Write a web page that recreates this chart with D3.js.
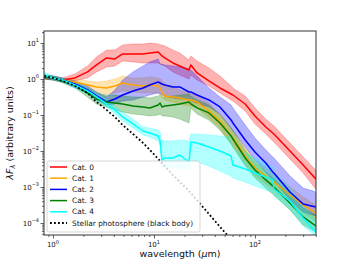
<!DOCTYPE html>
<html><head><meta charset="utf-8">
<script src="https://cdn.jsdelivr.net/npm/d3@7"></script>
<style>body{margin:0;background:#fff;} svg{display:block;font-family:"DejaVu Sans",sans-serif;}</style>
</head><body><svg id="c" width="352" height="264"></svg>
<script>
// ---- data ----
const categories = ["Cat. 0", "Cat. 1", "Cat. 2", "Cat. 3", "Cat. 4"];
const colors = ["#ff0000", "#ffa500", "#0000ff", "#008000", "#00ffff"];
const wavelength = [0.82, 1.0, 1.25, 1.65, 2.2, 2.7, 3.4, 4.1, 4.9, 6.2, 7.8, 9.1, 11.0, 11.5, 12.0, 12.8, 15.4, 18.0, 22.2, 23.2, 26.7, 35, 45, 58, 60.5, 80, 100, 128, 150, 154, 222, 300, 400];

const med0 = [1.14, 1.07, 0.94, 1.07, 1.57, 2.45, 3.83, 3.59, 4.95, 4.95, 4.95, 5.28, 5.62, 4.95, 4.35, 3.83, 2.78, 2.30, 1.78, 2.45, 1.47, 0.88, 0.562, 0.383, 0.359, 0.202, 0.0938, 0.0464, 0.0316, 0.0297, 0.0100, 0.00408, 0.00167];
const lo0  = [1.0, 0.938, 0.825, 0.88, 1.07, 1.57, 2.15, 2.30, 3.16, 2.97, 2.78, 2.78, 2.78, 2.61, 2.45, 2.30, 1.57, 1.29, 1.0, 1.29, 0.938, 0.639, 0.408, 0.261, 0.245, 0.129, 0.0562, 0.0297, 0.019, 0.0178, 0.006, 0.00245, 0.00088];
const hi0  = [1.29, 1.21, 1.07, 1.38, 2.30, 4.08, 6.39, 6.39, 8.80, 9.38, 9.38, 10, 9.38, 8.80, 8.80, 8.25, 6.39, 5.28, 3.37, 4.35, 3.16, 2.02, 1.21, 0.639, 0.562, 0.337, 0.157, 0.0774, 0.0528, 0.0495, 0.0167, 0.00681, 0.00297];

const med1 = [1.14, 1.07, 0.938, 0.825, 0.681, 0.600, 0.562, 0.639, 0.774, 0.681, 0.639, 0.681, 0.639, 0.562, 0.435, 0.337, 0.316, 0.297, 0.261, 0.261, 0.230, 0.129, 0.0681, 0.0261, 0.0230, 0.00726, 0.00337, 0.00202, 0.00147, 0.00138, 0.000600, 0.000316, 0.000190];
const lo1  = [1.0, 0.938, 0.825, 0.681, 0.528, 0.435, 0.383, 0.408, 0.464, 0.435, 0.408, 0.408, 0.408, 0.359, 0.316, 0.261, 0.230, 0.202, 0.178, 0.178, 0.157, 0.0825, 0.0435, 0.0157, 0.0138, 0.00435, 0.00202, 0.00121, 0.00088, 0.000825, 0.000359, 0.000190, 0.000114];
const hi1  = [1.29, 1.21, 1.07, 1.0, 0.88, 0.825, 0.88, 1.0, 1.21, 1.07, 1.07, 1.14, 1.07, 1.0, 0.938, 0.726, 0.562, 0.495, 0.408, 0.383, 0.337, 0.215, 0.107, 0.0435, 0.0383, 0.0121, 0.00562, 0.00337, 0.00245, 0.0023, 0.001, 0.000528, 0.000316];

const med2 = [1.14, 1.07, 0.938, 0.726, 0.495, 0.337, 0.230, 0.278, 0.359, 0.464, 0.562, 0.681, 0.825, 0.774, 0.726, 0.681, 0.600, 0.600, 0.435, 0.435, 0.359, 0.261, 0.167, 0.0726, 0.0600, 0.0202, 0.00938, 0.00464, 0.00261, 0.00245, 0.000726, 0.000337, 0.000278];
const lo2  = [1.0, 0.938, 0.825, 0.600, 0.383, 0.261, 0.190, 0.202, 0.245, 0.261, 0.316, 0.359, 0.408, 0.383, 0.359, 0.337, 0.297, 0.278, 0.261, 0.245, 0.215, 0.167, 0.107, 0.0435, 0.0359, 0.0129, 0.00562, 0.00261, 0.00157, 0.00147, 0.000435, 0.000202, 0.000157];
const hi2  = [1.29, 1.21, 1.07, 0.88, 0.639, 0.435, 0.316, 0.495, 0.938, 1.57, 2.30, 2.97, 3.59, 2.61, 2.61, 2.45, 2.30, 2.15, 1.90, 1.78, 1.21, 0.562, 0.316, 0.190, 0.157, 0.0528, 0.0230, 0.0107, 0.00681, 0.00639, 0.00202, 0.000938, 0.000726];

const med3 = [1.14, 1.07, 0.880, 0.681, 0.408, 0.278, 0.230, 0.215, 0.202, 0.178, 0.167, 0.157, 0.190, 0.215, 0.167, 0.178, 0.190, 0.202, 0.230, 0.202, 0.157, 0.114, 0.0600, 0.0261, 0.0215, 0.00639, 0.00297, 0.00157, 0.00107, 0.001, 0.000359, 0.000147, 0.0000825];
const lo3  = [1.0, 0.938, 0.774, 0.562, 0.316, 0.202, 0.167, 0.138, 0.121, 0.107, 0.1, 0.0938, 0.1, 0.107, 0.0938, 0.0938, 0.088, 0.0774, 0.06, 0.157, 0.107, 0.0726, 0.0383, 0.0157, 0.0129, 0.00383, 0.00178, 0.000938, 0.000639, 0.0006, 0.00023, 0.000088, 0.0000562];
const hi3  = [1.29, 1.21, 1.0, 0.825, 0.562, 0.408, 0.359, 0.359, 0.337, 0.316, 0.316, 0.297, 0.337, 0.359, 0.316, 0.316, 0.337, 0.359, 0.383, 0.337, 0.261, 0.19, 0.1, 0.0435, 0.0359, 0.0107, 0.00495, 0.00261, 0.00178, 0.00167, 0.000639, 0.000261, 0.000167];

const med4 = [1.29, 1.07, 0.938, 0.681, 0.464, 0.316, 0.202, 0.138, 0.088, 0.0562, 0.0359, 0.0316, 0.0261, 0.019, 0.00562, 0.00639, 0.00639, 0.00774, 0.00495, 0.0178, 0.0167, 0.0129, 0.01, 0.00726, 0.00408, 0.00316, 0.00245, 0.0019, 0.00157, 0.00088, 0.000408, 0.000138, 0.0000562];
const lo4  = [1.14, 0.938, 0.825, 0.562, 0.383, 0.261, 0.167, 0.107, 0.0681, 0.0435, 0.0278, 0.0245, 0.019, 0.0138, 0.00337, 0.00337, 0.00337, 0.00337, 0.00297, 0.00562, 0.00495, 0.00383, 0.00278, 0.00202, 0.00178, 0.00138, 0.00107, 0.000825, 0.000681, 0.000562, 0.000245, 0.0000825, 0.0000435];
const hi4  = [1.57, 1.21, 1.07, 0.825, 0.562, 0.408, 0.261, 0.178, 0.121, 0.0774, 0.0464, 0.0435, 0.0383, 0.0337, 0.0202, 0.019, 0.019, 0.0202, 0.019, 0.0297, 0.0297, 0.0278, 0.0261, 0.0245, 0.0107, 0.0088, 0.00639, 0.00464, 0.00359, 0.00261, 0.000938, 0.000316, 0.000121];

const starWavelength = [0.82, 1.0, 1.25, 1.65, 2.2, 2.7, 3.4, 4.1, 4.9, 6.2, 7.8, 9.1, 11.5, 15.4, 22.2, 35, 47, 59];
const starFlux = [1.21, 1.07, 0.880, 0.639, 0.408, 0.230, 0.138, 0.0880, 0.0528, 0.0297, 0.0167, 0.0107, 0.00528, 0.00215, 0.000774, 0.000178, 0.0000681, 0.0000337];
const starLabel = "Stellar photosphere (black body)";

const xTickValues = [1, 10, 100];
const xTickExponents = ["0", "1", "2"];
const yTickValues = [1e-4, 1e-3, 1e-2, 1e-1, 1, 10];
const yTickExponents = ["\u22124", "\u22123", "\u22122", "\u22121", "0", "1"];

const meds = [med0, med1, med2, med3, med4];
const los = [lo0, lo1, lo2, lo3, lo4];
const his = [hi0, hi1, hi2, hi3, hi4];

// ---- chart ----
const L = 44, R = 316, T = 31, B = 235;
const svg = d3.select("#c");
const x = d3.scaleLog().domain([0.815, 402]).range([L, R]);
const y = d3.scaleLog().domain([4.64e-5, 21.5]).range([B, T]);

svg.append("defs").append("clipPath").attr("id", "clip")
  .append("rect").attr("x", L).attr("y", T).attr("width", R - L).attr("height", B - T);

const plot = svg.append("g").attr("clip-path", "url(#clip)");

const area = d3.area().x(d => x(d.w)).y0(d => y(d.lo)).y1(d => y(d.hi));
const line = d3.line().x(d => x(d.w)).y(d => y(d.v));

categories.forEach((c, i) => {
  const pts = wavelength.map((w, j) => ({w, lo: los[i][j], hi: his[i][j], v: meds[i][j]}));
  plot.append("path").datum(pts).attr("d", area)
    .attr("fill", colors[i]).attr("fill-opacity", 0.3)
    .attr("stroke", colors[i]).attr("stroke-opacity", 0.3).attr("stroke-width", 0.8);
});
categories.forEach((c, i) => {
  const pts = wavelength.map((w, j) => ({w, v: meds[i][j]}));
  plot.append("path").datum(pts).attr("d", line)
    .attr("fill", "none").attr("stroke", colors[i]).attr("stroke-width", 1.5)
    .attr("stroke-linejoin", "round");
});
plot.append("path").datum(starWavelength.map((w, j) => ({w, v: starFlux[j]})))
  .attr("d", line).attr("fill", "none").attr("stroke", "#000")
  .attr("stroke-width", 1.8).attr("stroke-dasharray", "1.8,2.2");

// axes
const isPow = v => Math.abs(Math.log10(v) - Math.round(Math.log10(v))) < 1e-6;
const xMinor = x.ticks().filter(v => !isPow(v));
const yMinor = y.ticks().filter(v => !isPow(v));

const gxMinor = svg.append("g").attr("transform", `translate(0,${B})`)
  .call(d3.axisBottom(x).tickValues(xMinor).tickSize(2).tickFormat(""));
const gx = svg.append("g").attr("transform", `translate(0,${B})`)
  .call(d3.axisBottom(x).tickValues(xTickValues).tickSize(3.5).tickFormat(""));
const gyMinor = svg.append("g").attr("transform", `translate(${L},0)`)
  .call(d3.axisLeft(y).tickValues(yMinor).tickSize(2).tickFormat(""));
const gy = svg.append("g").attr("transform", `translate(${L},0)`)
  .call(d3.axisLeft(y).tickValues(yTickValues).tickSize(3.5).tickFormat(""));
[gxMinor, gx, gyMinor, gy].forEach(g => {
  g.select(".domain").remove();
  g.selectAll(".tick line").attr("stroke", "#222").attr("stroke-width", 0.7);
});

xTickValues.forEach((v, i) => {
  const t = svg.append("text").attr("x", x(v)).attr("y", B + 12)
    .attr("text-anchor", "middle").attr("font-size", 7).attr("fill", "#111");
  t.append("tspan").text("10");
  t.append("tspan").attr("dy", -3.5).attr("font-size", 5).text(xTickExponents[i]);
});
yTickValues.forEach((v, i) => {
  const t = svg.append("text").attr("x", L - 5).attr("y", y(v) + 2.8)
    .attr("text-anchor", "end").attr("font-size", 7).attr("fill", "#111");
  t.append("tspan").text("10");
  t.append("tspan").attr("dy", -3.5).attr("font-size", 5).text(yTickExponents[i]);
});

// frame
svg.append("rect").attr("x", L).attr("y", T).attr("width", R - L).attr("height", B - T)
  .attr("fill", "none").attr("stroke", "#333").attr("stroke-width", 1);

// axis labels
const xl = svg.append("text").attr("x", (L + R) / 2).attr("y", 257)
  .attr("text-anchor", "middle").attr("font-size", 9.5).attr("fill", "#111");
xl.append("tspan").text("wavelength (");
xl.append("tspan").attr("font-style", "italic").text("\u03bc");
xl.append("tspan").text("m)");

const yl = svg.append("text").attr("transform", `translate(13,${(T + B) / 2}) rotate(-90)`)
  .attr("text-anchor", "middle").attr("font-size", 9.5).attr("fill", "#111");
yl.append("tspan").attr("font-style", "italic").text("\u03bbF");
yl.append("tspan").attr("font-style", "italic").attr("font-size", 7).attr("dy", 2).text("\u03bb");
yl.append("tspan").attr("dy", -2).text(" (arbitrary units)");

// legend
const lg = svg.append("g");
lg.append("rect").attr("x", 47).attr("y", 161).attr("width", 153).attr("height", 71)
  .attr("rx", 2).attr("fill", "#fff").attr("fill-opacity", 0.8)
  .attr("stroke", "#ccc").attr("stroke-width", 0.8);
const rowY = i => 167 + i * 11.2;
categories.forEach((c, i) => {
  lg.append("line").attr("x1", 50).attr("x2", 67).attr("y1", rowY(i)).attr("y2", rowY(i))
    .attr("stroke", colors[i]).attr("stroke-width", 1.5);
  lg.append("text").attr("x", 72).attr("y", rowY(i) + 2.6).attr("font-size", 7.4)
    .attr("fill", "#111").text(c);
});
lg.append("line").attr("x1", 50).attr("x2", 67).attr("y1", rowY(5)).attr("y2", rowY(5))
  .attr("stroke", "#000").attr("stroke-width", 1.8).attr("stroke-dasharray", "1.8,2.2");
lg.append("text").attr("x", 72).attr("y", rowY(5) + 2.6).attr("font-size", 7.4)
  .attr("fill", "#111").text(starLabel);
</script></body></html>
